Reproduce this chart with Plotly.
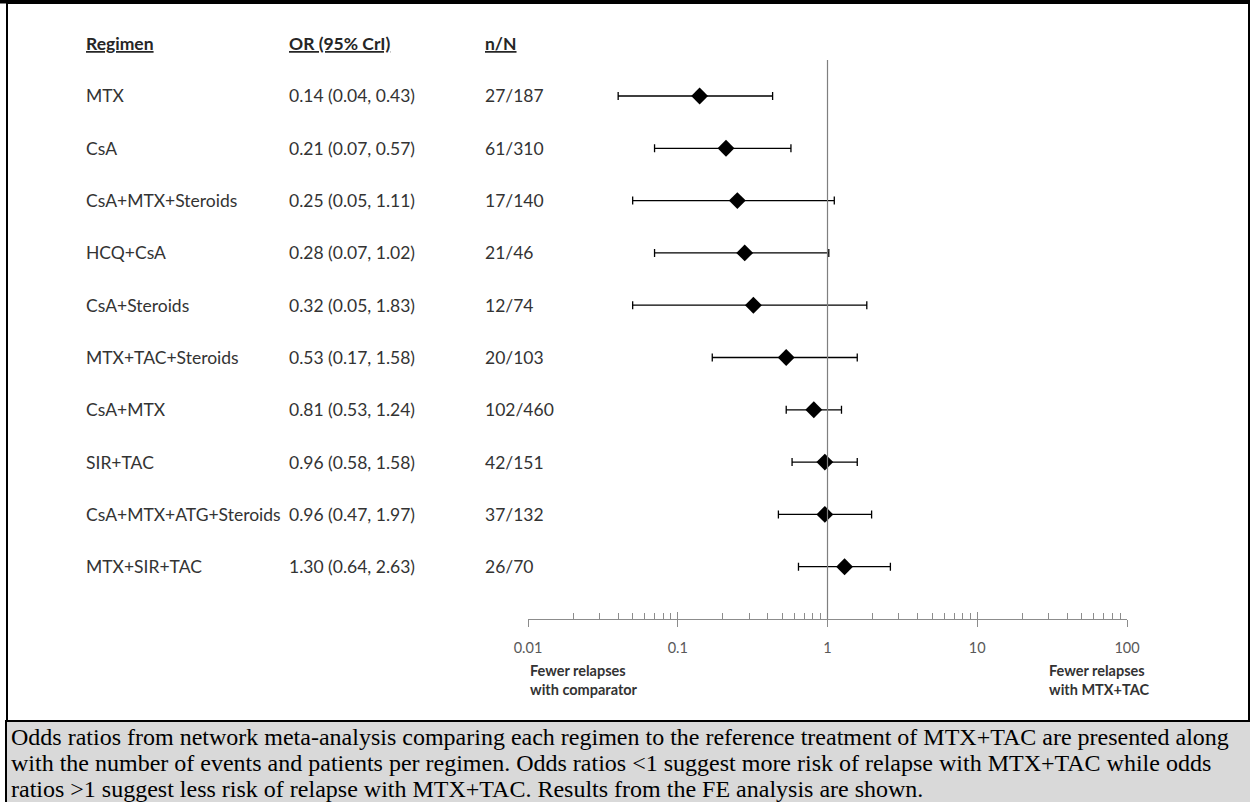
import plotly.graph_objects as go

regimens = ["MTX", "CsA", "CsA+MTX+Steroids", "HCQ+CsA", "CsA+Steroids",
            "MTX+TAC+Steroids", "CsA+MTX", "SIR+TAC", "CsA+MTX+ATG+Steroids", "MTX+SIR+TAC"]
odds = [0.14, 0.21, 0.25, 0.28, 0.32, 0.53, 0.81, 0.96, 0.96, 1.30]
lower = [0.04, 0.07, 0.05, 0.07, 0.05, 0.17, 0.53, 0.58, 0.47, 0.64]
upper = [0.43, 0.57, 1.11, 1.02, 1.83, 1.58, 1.24, 1.58, 1.97, 2.63]
events = [27, 61, 17, 21, 12, 20, 102, 42, 37, 26]
patients = [187, 310, 140, 46, 74, 103, 460, 151, 132, 70]
major_ticks = [0.01, 0.1, 1, 10, 100]
major_labels = ["0.01", "0.1", "1", "10", "100"]
caption_lines = [
    "Odds ratios from network meta-analysis comparing each regimen to the reference treatment of MTX+TAC are presented along",
    "with the number of events and patients per regimen. Odds ratios <1 suggest more risk of relapse with MTX+TAC while odds",
    "ratios >1 suggest less risk of relapse with MTX+TAC. Results from the FE analysis are shown.",
]

W, H = 1250, 802
def px(x):
    return x / W
def py(y):
    return 1 - y / H

rows = list(range(len(regimens)))
minor_ticks = [m * d for d in [0.01, 0.1, 1, 10] for m in range(2, 10)]

fig = go.Figure()
fig.add_trace(go.Scatter(
    x=odds, y=rows, mode="markers",
    marker=dict(symbol="diamond", size=13, color="black"),
    error_x=dict(type="data", symmetric=False,
                 array=[u - o for u, o in zip(upper, odds)],
                 arrayminus=[o - l for o, l in zip(odds, lower)],
                 color="black", thickness=1.3, width=4),
    showlegend=False, hoverinfo="skip", cliponaxis=False,
))
# invisible trace for overlay axis (major ticks inside part)
fig.add_trace(go.Scatter(x=[1], y=[0], xaxis="x2", mode="markers",
                         marker=dict(opacity=0), showlegend=False, hoverinfo="skip"))

xdom = [px(528), px(1127)]
fig.update_layout(
    width=W, height=H, autosize=False,
    margin=dict(l=0, r=0, t=0, b=0, pad=0, autoexpand=False),
    showlegend=False,
    paper_bgcolor="white", plot_bgcolor="white",
    font=dict(family="Lato", color="#333333"),
    xaxis=dict(type="log", range=[-2, 2], domain=xdom, automargin=False,
               tickvals=major_ticks, ticktext=major_labels,
               ticks="outside", ticklen=7, tickwidth=1, tickcolor="#8c8c8c",
               ticklabelstandoff=9,
               showline=True, linecolor="#8c8c8c", linewidth=1,
               showgrid=False, zeroline=False,
               tickfont=dict(family="Lato", size=14.5, color="#595959"),
               minor=dict(tickvals=minor_ticks, ticks="inside", ticklen=6,
                          tickcolor="#8c8c8c", tickwidth=1, showgrid=False)),
    xaxis2=dict(type="log", range=[-2, 2], domain=xdom, overlaying="x",
                anchor="y", tickvals=major_ticks, ticks="inside", ticklen=7,
                automargin=False,
                tickcolor="#8c8c8c", showticklabels=False, showgrid=False,
                showline=False, zeroline=False),
    yaxis=dict(range=[10, -1.3], domain=[py(619), py(28)], automargin=False,
               visible=False, showgrid=False, zeroline=False),
)

# reference line at OR = 1
fig.add_shape(type="line", xref="x", yref="y", x0=1, x1=1, y0=-0.69, y1=10,
              line=dict(color="#7f7f7f", width=1.2))

# column headers
for label, xp in [("Regimen", 84), ("OR (95% CrI)", 287), ("n/N", 483)]:
    fig.add_annotation(x=px(xp), y=-1, xref="paper", yref="y", text=label,
                       showarrow=False, xanchor="left", yanchor="middle",
                       font=dict(family="Lato", size=17.5, color="#262626",
                                 weight="bold", lineposition="under"))

for i, r in enumerate(regimens):
    or_txt = f"{odds[i]:.2f} ({lower[i]:.2f}, {upper[i]:.2f})"
    nn_txt = f"{events[i]}/{patients[i]}"
    for txt, xp in [(r, 84), (or_txt, 287), (nn_txt, 483)]:
        fig.add_annotation(x=px(xp), y=i, xref="paper", yref="y", text=txt,
                           showarrow=False, xanchor="left", yanchor="middle",
                           font=dict(family="Lato", size=17.5, color="#333333"))

# direction labels
fig.add_annotation(x=px(528), y=py(680), xref="paper", yref="paper",
                   text="<b>Fewer relapses<br>with comparator</b>", showarrow=False,
                   xanchor="left", yanchor="middle", align="left",
                   font=dict(family="Lato", size=14.5, color="#333333"))
fig.add_annotation(x=px(1047), y=py(680), xref="paper", yref="paper",
                   text="<b>Fewer relapses<br>with MTX+TAC</b>", showarrow=False,
                   xanchor="left", yanchor="middle", align="left",
                   font=dict(family="Lato", size=14.5, color="#333333"))

# frame: top black band, bordered panel, gray caption box
fig.add_shape(type="rect", xref="paper", yref="paper", x0=0, x1=1, y0=py(3.5), y1=1,
              fillcolor="black", line=dict(width=0), layer="below")
fig.add_shape(type="rect", xref="paper", yref="paper", x0=px(7), x1=px(1249), y0=py(721), y1=py(3),
              fillcolor="rgba(0,0,0,0)", line=dict(color="black", width=2))
fig.add_shape(type="rect", xref="paper", yref="paper", x0=px(6), x1=px(1256), y0=py(806), y1=py(721),
              fillcolor="#d9d9d9", line=dict(color="black", width=2), layer="below")

for k, line in enumerate(caption_lines):
    fig.add_annotation(x=px(9), y=py(737 + 26 * k), xref="paper", yref="paper",
                       text=line, showarrow=False, xanchor="left", yanchor="middle",
                       font=dict(family="Liberation Serif", size=24, color="black"))

fig.write_html("out.html", config={"displayModeBar": False},
               post_script="document.body.style.margin='0';document.body.style.overflow='hidden';")
